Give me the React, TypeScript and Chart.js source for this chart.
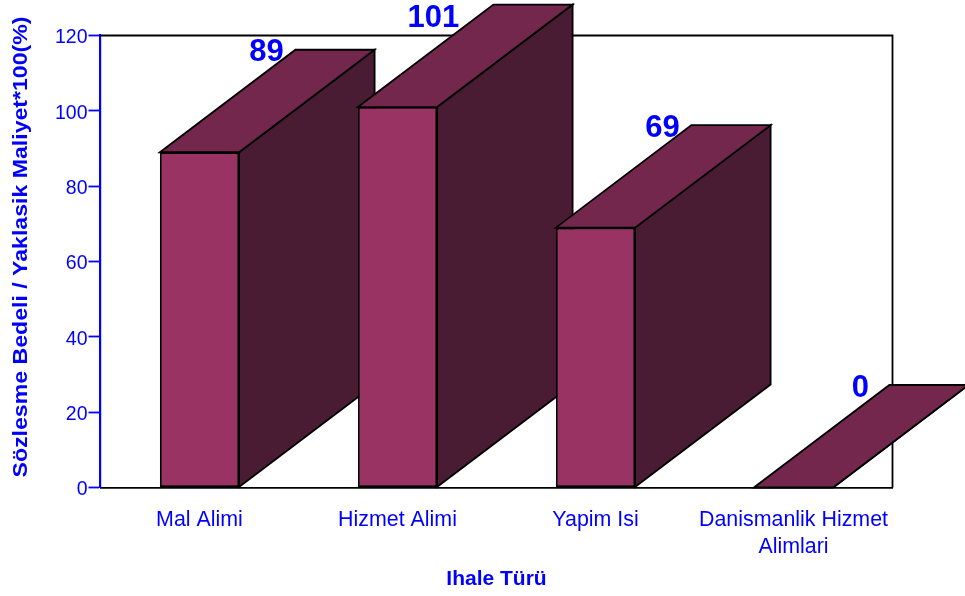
import React, { useEffect, useRef } from "react";
import { Chart, registerables } from "chart.js";

Chart.register(...registerables);

const categories = ["Mal Alimi", "Hizmet Alimi", "Yapim Isi", ["Danismanlik Hizmet", "Alimlari"]];
const values = [89, 101, 69, 0];
const yTitle = "Sözlesme Bedeli / Yaklasik Maliyet*100(%)";
const xTitle = "Ihale Türü";

const BLUE = "#0000FF";
const FRONT = "#993363";
const SIDE = "#4A1C33";
const TOP = "#73274D";
const FONT = "'Liberation Sans', Arial, sans-serif";
const DX = 135.5;
const DY = 102.5;
const EDGE = 1.8;

function poly(ctx: CanvasRenderingContext2D, pts: number[][], fill: string) {
  ctx.beginPath();
  pts.forEach((p, i) => (i ? ctx.lineTo(p[0], p[1]) : ctx.moveTo(p[0], p[1])));
  ctx.closePath();
  ctx.fillStyle = fill;
  ctx.fill();
  ctx.strokeStyle = "#000";
  ctx.lineWidth = EDGE;
  ctx.lineJoin = "miter";
  ctx.stroke();
}

const framePlugin = {
  id: "frame",
  beforeDatasetsDraw(chart: any) {
    const { ctx, chartArea: a } = chart;
    ctx.save();
    ctx.strokeStyle = "#000";
    ctx.lineWidth = EDGE;
    ctx.beginPath();
    ctx.moveTo(a.left, a.top);
    ctx.lineTo(a.right, a.top);
    ctx.lineTo(a.right, a.bottom);
    ctx.stroke();
    ctx.restore();
  },
};

const box3dPlugin = {
  id: "box3d",
  afterDatasetsDraw(chart: any) {
    const { ctx } = chart;
    const meta = chart.getDatasetMeta(0);
    ctx.save();
    meta.data.forEach((bar: any) => {
      const half = bar.width / 2;
      const l = bar.x - half;
      const r = bar.x + half;
      const t = bar.y;
      const b = bar.base;
      poly(ctx, [[r, t], [r + DX, t - DY], [r + DX, b - DY], [r, b]], SIDE);
      poly(ctx, [[l, t], [l + DX, t - DY], [r + DX, t - DY], [r, t]], TOP);
      if (b - t > 0.5) bar.draw(ctx);
    });
    ctx.fillStyle = BLUE;
    ctx.font = `bold 31px ${FONT}`;
    ctx.textAlign = "center";
    ctx.textBaseline = "middle";
    meta.data.forEach((bar: any, i: number) => {
      const backLeft = bar.x - bar.width / 2 + DX;
      const backTop = bar.y - DY;
      const clamped = backTop < 16;
      const x = backLeft - (clamped ? 60 : 29);
      const y = clamped ? 15 : backTop;
      ctx.fillText(String(values[i]), x, y + 3);
    });
    ctx.restore();
  },
};

export default function App() {
  const ref = useRef<HTMLCanvasElement>(null);
  useEffect(() => {
    const chart = new Chart(ref.current as HTMLCanvasElement, {
      type: "bar",
      data: {
        labels: categories as any,
        datasets: [
          {
            data: values,
            backgroundColor: FRONT,
            borderColor: "#000",
            borderWidth: EDGE,
            borderSkipped: false,
            barPercentage: 0.4,
            categoryPercentage: 1,
          },
        ],
      },
      options: {
        responsive: false,
        animation: false,
        layout: { padding: { top: 35.5, right: 72.5, left: 0, bottom: 0 } },
        plugins: { legend: { display: false }, tooltip: { enabled: false } },
        scales: {
          x: {
            afterFit: (s: any) => {
              s.height = 108.5;
            },
            grid: { display: true, drawOnChartArea: false, drawTicks: false },
            border: { color: "#000", width: EDGE },
            ticks: {
              color: BLUE,
              font: { family: FONT, size: 21.4, lineHeight: 1.22 },
              padding: 20,
              maxRotation: 0,
              autoSkip: false,
            },
            title: {
              display: true,
              text: xTitle,
              color: BLUE,
              font: { family: FONT, size: 21, weight: "bold" },
              padding: { top: 0, bottom: 4 },
            },
          },
          y: {
            min: 0,
            max: 120,
            afterFit: (s: any) => {
              s.width = 100.5;
              if (s.shiftedTitle) return;
              s.shiftedTitle = true;
              const draw = s.drawTitle;
              s.drawTitle = function () {
                const mid = (s.top + s.bottom) / 2;
                s.ctx.save();
                s.ctx.translate(0, mid - 14.5);
                s.ctx.scale(1, 1.155);
                s.ctx.translate(0, -mid);
                draw.call(s);
                s.ctx.restore();
              };
            },
            grid: { display: true, drawOnChartArea: false, drawTicks: true, tickLength: 12, tickColor: BLUE, tickWidth: 1.8 },
            border: { color: BLUE, width: 2.2 },
            ticks: {
              color: BLUE,
              stepSize: 20,
              labelOffset: 2.5,
              font: { family: FONT, size: 19.5 },
              padding: 1,
            },
            title: {
              display: true,
              text: yTitle,
              color: BLUE,
              font: { family: FONT, size: 20, weight: "bold" },
              padding: { top: 9, bottom: 0 },
            },
          },
        },
      } as any,
      plugins: [framePlugin, box3dPlugin],
    });
    return () => chart.destroy();
  }, []);
  return (
    <canvas
      ref={ref}
      width={965}
      height={596}
      style={{ position: "fixed", left: 0, top: 0, width: 965, height: 596, display: "block" }}
    />
  );
}
